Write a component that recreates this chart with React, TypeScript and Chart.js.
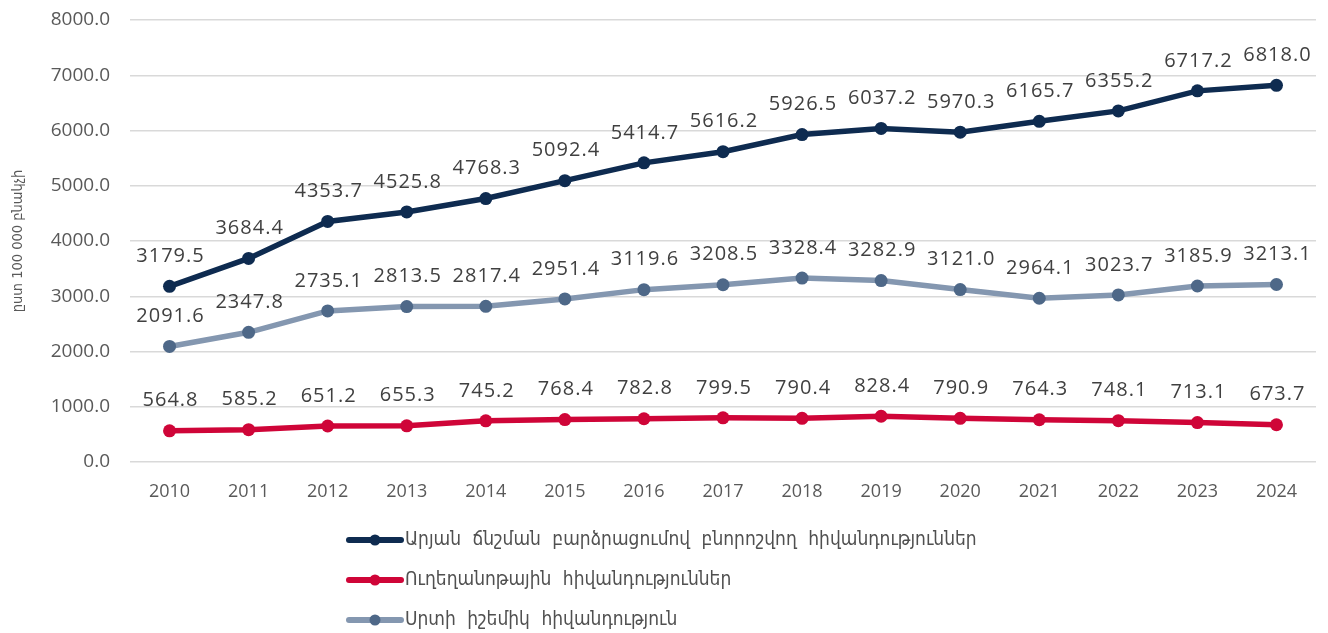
import React, { useEffect, useRef } from "react";
import { Chart, registerables } from "chart.js";

Chart.register(...registerables);

// Years on the category axis
const years = [
  "2010", "2011", "2012", "2013", "2014", "2015", "2016", "2017",
  "2018", "2019", "2020", "2021", "2022", "2023", "2024",
];

// Rates per 100 000 population
const hypertensive = [
  3179.5, 3684.4, 4353.7, 4525.8, 4768.3, 5092.4, 5414.7, 5616.2,
  5926.5, 6037.2, 5970.3, 6165.7, 6355.2, 6717.2, 6818.0,
];
const cerebrovascular = [
  564.8, 585.2, 651.2, 655.3, 745.2, 768.4, 782.8, 799.5,
  790.4, 828.4, 790.9, 764.3, 748.1, 713.1, 673.7,
];
const ischemic = [
  2091.6, 2347.8, 2735.1, 2813.5, 2817.4, 2951.4, 3119.6, 3208.5,
  3328.4, 3282.9, 3121.0, 2964.1, 3023.7, 3185.9, 3213.1,
];

const seriesNames = [
  "Արյան ճնշման բարձրացումով բնորոշվող հիվանդություններ",
  "Ուղեղանոթային հիվանդություններ",
  "Սրտի իշեմիկ հիվանդություն",
];

const yAxisTitle = "ըստ 100 000 բնակչի";
const yMin = 0;
const yMax = 8000;
const yStep = 1000;

const NAVY = "#0E2B50";
const RED = "#CF0538";
const GREY_LINE = "#8497B0";
const GREY_POINT = "#4E6888";

const TEXT_FONT = '"Open Sans", "DejaVu Sans", sans-serif';
const ARM_FONT = '"DejaVu Sans Condensed", "DejaVu Sans", sans-serif';

// Value labels written above each point
const valueLabels = {
  id: "valueLabels",
  afterDatasetsDraw(chart: any) {
    const ctx = chart.ctx;
    ctx.save();
    ctx.font = `20px ${TEXT_FONT}`;
    (ctx as any).letterSpacing = "1px";
    ctx.fillStyle = "#404040";
    ctx.textAlign = "center";
    ctx.textBaseline = "middle";
    chart.data.datasets.forEach((ds: any, i: number) => {
      const meta = chart.getDatasetMeta(i);
      meta.data.forEach((pt: any, j: number) => {
        const v = ds.data[j] as number;
        ctx.fillText(v.toFixed(1), pt.x + 1, pt.y - 30);
      });
    });
    ctx.restore();
  },
};

// Stacked legend below the axis
const stackedLegend = {
  id: "stackedLegend",
  afterDraw(chart: any) {
    const ctx = chart.ctx;
    const area = chart.chartArea;
    const x0 = 349;
    const top = area.bottom + 78;
    ctx.save();
    chart.data.datasets.forEach((ds: any, i: number) => {
      const y = top + i * 40;
      ctx.strokeStyle = ds.borderColor;
      ctx.lineWidth = 6;
      ctx.lineCap = "round";
      ctx.beginPath();
      ctx.moveTo(x0, y);
      ctx.lineTo(x0 + 52, y);
      ctx.stroke();
      ctx.fillStyle = ds.pointBackgroundColor;
      ctx.beginPath();
      ctx.arc(x0 + 26, y, 5.5, 0, Math.PI * 2);
      ctx.fill();
      ctx.font = `19px ${ARM_FONT}`;
      (ctx as any).letterSpacing = "0px";
      (ctx as any).wordSpacing = "6px";
      ctx.fillStyle = "#505050";
      ctx.textAlign = "left";
      ctx.textBaseline = "middle";
      ctx.fillText(ds.label, x0 + 56, y);
    });
    ctx.restore();
  },
};

export default function App() {
  const canvasRef = useRef<HTMLCanvasElement | null>(null);

  useEffect(() => {
    const canvas = canvasRef.current;
    if (!canvas) return;

    const makeSet = (label: string, data: number[], line: string, point: string) => ({
      label,
      data,
      borderColor: line,
      backgroundColor: point,
      pointBackgroundColor: point,
      pointBorderColor: point,
      pointBorderWidth: 0,
      pointRadius: 6.5,
      borderWidth: 5.5,
      tension: 0,
      fill: false,
    });

    const chart = new Chart(canvas, {
      type: "line",
      data: {
        labels: years,
        datasets: [
          makeSet(seriesNames[0], hypertensive, NAVY, NAVY),
          makeSet(seriesNames[1], cerebrovascular, RED, RED),
          makeSet(seriesNames[2], ischemic, GREY_LINE, GREY_POINT),
        ],
      },
      options: {
        responsive: false,
        animation: false,
        layout: { padding: { top: 20, right: 12, bottom: 111, left: 0 } },
        plugins: {
          legend: { display: false },
          tooltip: { enabled: false },
        },
        scales: {
          x: {
            offset: true,
            grid: { display: false, drawTicks: false },
            border: { display: false },
            ticks: {
              color: "#595959",
              font: { family: TEXT_FONT, size: 18 },
              padding: 19,
              maxRotation: 0,
            },
            afterFit(scale: any) {
              scale.height = 60;
            },
          },
          y: {
            min: yMin,
            max: yMax,
            grid: { color: "#D9D9D9", lineWidth: 1.5, drawTicks: false },
            border: { display: false },
            ticks: {
              stepSize: yStep,
              color: "#595959",
              font: { family: TEXT_FONT, size: 19 },
              padding: 20,
              callback: (v: any) => Number(v).toFixed(1),
            },
            title: {
              display: true,
              text: yAxisTitle,
              color: "#595959",
              font: { family: ARM_FONT, size: 14.5 },
              padding: { top: 10, bottom: 0 },
            },
            afterFit(scale: any) {
              scale.width = 130;
              scale.paddingTop = 0;
              scale.paddingBottom = 0;
            },
          },
        },
      },
      plugins: [valueLabels, stackedLegend],
    });

    return () => chart.destroy();
  }, []);

  return (
    <div style={{ position: "fixed", left: 0, top: 0, width: 1328, height: 633, background: "#fff" }}>
      <canvas ref={canvasRef} width={1328} height={633} style={{ display: "block" }} />
    </div>
  );
}
